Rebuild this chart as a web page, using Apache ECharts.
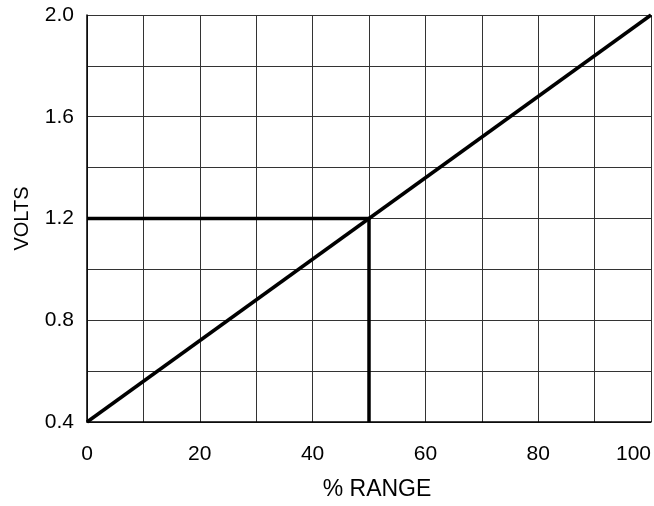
<!DOCTYPE html>
<html>
<head>
<meta charset="utf-8">
<script src="https://cdn.jsdelivr.net/npm/echarts@6/dist/echarts.min.js"></script>
<style>
  html, body { margin: 0; padding: 0; background: #fff; }
  #chart { width: 654px; height: 506px; }
</style>
</head>
<body>
<div id="chart"></div>
<script>
// transfer line: % range vs volts
const rangePct = [0, 100]
const volts = [0.4, 2.0]
// marked reading at 50 %
const markPct = [0, 50, 50]
const markVolts = [1.2, 1.2, 0.4]

const font = 'Liberation Sans, Arial, sans-serif'

const chart = echarts.init(document.getElementById('chart'))
chart.setOption({
    animation: false,
    grid: { left: 87, top: 15, width: 568, height: 411 },
    xAxis: {
        type: 'value',
        min: 0,
        max: 100,
        interval: 10,
        name: '% RANGE',
        nameLocation: 'middle',
        nameGap: 56,
        nameTextStyle: { color: '#000', fontSize: 23, fontFamily: font, padding: [0, 0, 0, 16] },
        axisLine: { show: true, lineStyle: { color: '#000', width: 1.5 } },
        axisTick: { show: false },
        axisLabel: {
            color: '#000', fontSize: 21, fontFamily: font, margin: 22,
            alignMaxLabel: 'right',
            formatter: v => (v % 20 === 0 ? String(v) : '')
        },
        splitLine: { show: true, lineStyle: { color: '#333', width: 1 } }
    },
    yAxis: {
        type: 'value',
        min: 0.4,
        max: 2.0,
        interval: 0.2,
        name: 'VOLTS',
        nameLocation: 'middle',
        nameGap: 55,
        nameTextStyle: { color: '#000', fontSize: 20, fontFamily: font },
        axisLine: { show: true, lineStyle: { color: '#000', width: 1.5 } },
        axisTick: { show: false },
        axisLabel: {
            color: '#000', fontSize: 21, fontFamily: font, margin: 13,
            formatter: v => (Math.round(v * 10) % 4 === 0 ? v.toFixed(1) : '')
        },
        splitLine: { show: true, lineStyle: { color: '#333', width: 1 } }
    },
    series: [
        {
            type: 'line',
            data: rangePct.map((x, i) => [x, volts[i]]),
            symbol: 'none',
            lineStyle: { color: '#000', width: 3.5 }
        },
        {
            type: 'line',
            data: markPct.map((x, i) => [x, markVolts[i]]),
            symbol: 'none',
            lineStyle: { color: '#000', width: 3.5 }
        }
    ]
})
</script>
</body>
</html>
